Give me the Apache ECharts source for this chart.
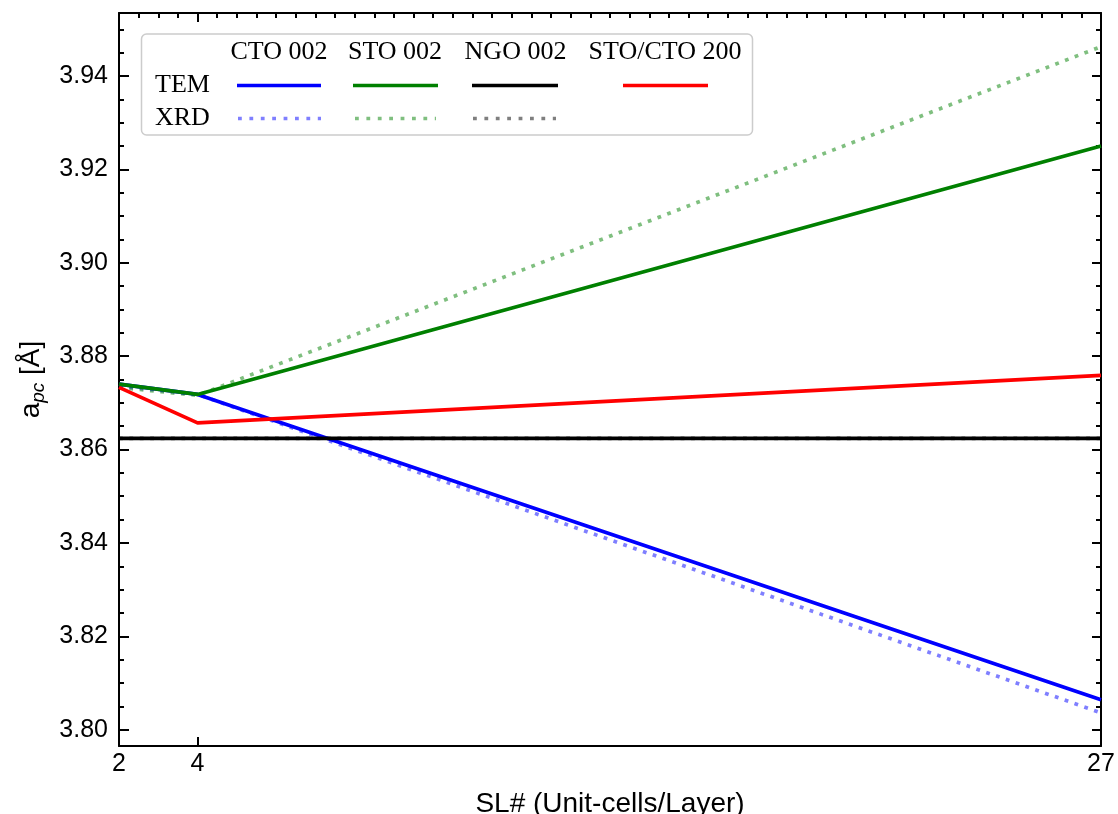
<!DOCTYPE html>
<html>
<head>
<meta charset="utf-8">
<script src="https://cdn.jsdelivr.net/npm/echarts@6/dist/echarts.min.js"></script>
<style>
  html, body { margin: 0; padding: 0; background: #fff; }
  #chart { width: 1118px; height: 814px; }
</style>
</head>
<body>
<div id="chart"></div>
<script>
// Superlattice number (unit cells per layer)
const slNumbers = [2, 4, 27];

// Pseudo-cubic lattice parameter a_pc (Å)
const ctoTem    = [3.8740, 3.8718, 3.8064];
const ctoXrd    = [3.8736, 3.8718, 3.8036];
const stoTem    = [3.8740, 3.8718, 3.9250];
const stoXrd    = [3.8733, 3.8716, 3.9463];
const ngoTem    = [3.8624, 3.8624, 3.8624];
const ngoXrd    = [3.8624, 3.8624, 3.8624];
const stoCtoTem = [3.8733, 3.8657, 3.8759];

// Axis ticks
const xTickValues = [2, 4, 27];
const yTickValues = [3.80, 3.82, 3.84, 3.86, 3.88, 3.90, 3.92, 3.94];
const yRange = [3.7965, 3.9535];

const yMinor = [];
for (let i = 0; i <= 32; i++) {
  const v = +(3.795 + 0.005 * i).toFixed(4);
  if (v > yRange[0] && v < yRange[1]) yMinor.push(v);
}
const xMinor = [];
for (let v = 2; v <= 27.0001; v += 0.5) xMinor.push(+v.toFixed(1));

const pairs = ys => slNumbers.map((x, i) => [x, ys[i]]);

const SANS = 'Liberation Sans';
const SERIF = 'Liberation Serif';
const LW = 3.7;
const AXIS_LINE = { show: true, lineStyle: { color: '#000', width: 2 } };

function bareAxis(extra) {
  return Object.assign({
    type: 'value', axisLine: { show: false }, axisLabel: { show: false },
    splitLine: { show: false }
  }, extra);
}

const solid = (name, data, color) => ({
  name, type: 'line', data: pairs(data), symbol: 'none', z: 3,
  lineStyle: { color, width: LW, cap: 'butt' }
});
const dotted = (name, data, color) => ({
  name, type: 'line', data: pairs(data), symbol: 'none', z: 2,
  lineStyle: { color, width: LW, type: [3.8, 6.6], opacity: 0.5, cap: 'butt' }
});

const chart = echarts.init(document.getElementById('chart'), null, { renderer: 'canvas' });

// Legend laid out as a small table: columns per reflection, rows per method
const legendCols = [
  { title: 'CTO 002',     cx: 279,   tem: [237, 321, '#0000ff'], xrd: [238, 321, '#0000ff'] },
  { title: 'STO 002',     cx: 395,   tem: [353, 438, '#008000'], xrd: [355, 436, '#008000'] },
  { title: 'NGO 002',     cx: 515.5, tem: [472, 558, '#000000'], xrd: [473, 556, '#000000'] },
  { title: 'STO/CTO 200', cx: 665,   tem: [623, 708, '#ff0000'], xrd: null }
];
const graphics = [{
  type: 'rect', shape: { x: 141.5, y: 34, width: 611, height: 101, r: 5 },
  style: { fill: 'rgba(255,255,255,0.8)', stroke: '#cccccc', lineWidth: 1.5 }, z: 10
}, {
  type: 'text', x: 155, y: 85, z: 11,
  style: { text: 'TEM', font: '26px "' + SERIF + '"', fill: '#000', verticalAlign: 'middle' }
}, {
  type: 'text', x: 155, y: 118.5, z: 11,
  style: { text: 'XRD', font: '26px "' + SERIF + '"', fill: '#000', verticalAlign: 'middle' }
}];
legendCols.forEach(c => {
  graphics.push({
    type: 'text', x: c.cx, y: 52, z: 11,
    style: { text: c.title, font: '26px "' + SERIF + '"', fill: '#000', align: 'center', verticalAlign: 'middle' }
  });
  graphics.push({
    type: 'line', z: 11, shape: { x1: c.tem[0], y1: 85.5, x2: c.tem[1], y2: 85.5 },
    style: { stroke: c.tem[2], lineWidth: LW }
  });
  if (c.xrd) graphics.push({
    type: 'line', z: 11, shape: { x1: c.xrd[0], y1: 118.5, x2: c.xrd[1], y2: 118.5 },
    style: { stroke: c.xrd[2], lineWidth: LW, lineDash: [3.8, 7.6], opacity: 0.5 }
  });
});

chart.setOption({
  animation: false,
  backgroundColor: '#fff',
  textStyle: { fontFamily: SANS },
  grid: { left: 119, right: 17, top: 13, bottom: 68, containLabel: false, outerBoundsMode: 'none' },
  xAxis: [
    {
      type: 'value', position: 'bottom', min: 2, max: 27,
      name: 'SL# (Unit-cells/Layer)', nameLocation: 'middle', nameGap: 44,
      nameTextStyle: { fontFamily: SANS, fontSize: 28, color: '#000' },
      axisLine: AXIS_LINE,
      axisTick: { show: true, inside: true, length: 9, customValues: xTickValues, lineStyle: { color: '#000', width: 2 } },
      axisLabel: { show: true, customValues: xTickValues, fontSize: 25, color: '#000', margin: 6, fontFamily: SANS },
      splitLine: { show: false }
    },
    {
      type: 'value', position: 'top', min: 2, max: 27,
      axisLine: AXIS_LINE,
      axisTick: { show: true, inside: true, length: 5, customValues: xMinor, lineStyle: { color: '#000', width: 2 } },
      axisLabel: { show: false }, splitLine: { show: false }
    },
    bareAxis({
      position: 'top', min: 2, max: 27,
      axisTick: { show: true, inside: true, length: 9, customValues: xTickValues, lineStyle: { color: '#000', width: 2 } }
    })
  ],
  yAxis: [
    {
      type: 'value', position: 'left', min: yRange[0], max: yRange[1],
      name: '{a|a}{sub|pc}{a| [Å]}', nameLocation: 'middle', nameGap: 70, nameRotate: 90,
      nameTextStyle: {
        color: '#000',
        rich: {
          a: { fontFamily: SANS, fontSize: 28, color: '#000', lineHeight: 34 },
          sub: { fontFamily: SANS, fontSize: 19, fontStyle: 'italic', color: '#000', lineHeight: 34, verticalAlign: 'bottom', padding: [12, 0, 0, 0] }
        }
      },
      axisLine: AXIS_LINE,
      axisTick: { show: true, inside: true, length: 10, customValues: yTickValues, lineStyle: { color: '#000', width: 2 } },
      axisLabel: {
        show: true, customValues: yTickValues, fontSize: 25, color: '#000', margin: 11, fontFamily: SANS,
        formatter: v => v.toFixed(2)
      },
      splitLine: { show: false }
    },
    bareAxis({
      position: 'left', min: yRange[0], max: yRange[1],
      axisTick: { show: true, inside: true, length: 5, customValues: yMinor, lineStyle: { color: '#000', width: 2 } }
    }),
    {
      type: 'value', position: 'right', min: yRange[0], max: yRange[1],
      axisLine: AXIS_LINE,
      axisTick: { show: true, inside: true, length: 9, customValues: yTickValues, lineStyle: { color: '#000', width: 2 } },
      axisLabel: { show: false }, splitLine: { show: false }
    },
    bareAxis({
      position: 'right', min: yRange[0], max: yRange[1],
      axisTick: { show: true, inside: true, length: 5, customValues: yMinor, lineStyle: { color: '#000', width: 2 } }
    })
  ],
  series: [
    dotted('CTO 002 XRD', ctoXrd, '#0000ff'),
    dotted('STO 002 XRD', stoXrd, '#008000'),
    dotted('NGO 002 XRD', ngoXrd, '#000000'),
    solid('CTO 002 TEM', ctoTem, '#0000ff'),
    solid('STO 002 TEM', stoTem, '#008000'),
    solid('NGO 002 TEM', ngoTem, '#000000'),
    solid('STO/CTO 200 TEM', stoCtoTem, '#ff0000')
  ],
  graphic: graphics
});
</script>
</body>
</html>
